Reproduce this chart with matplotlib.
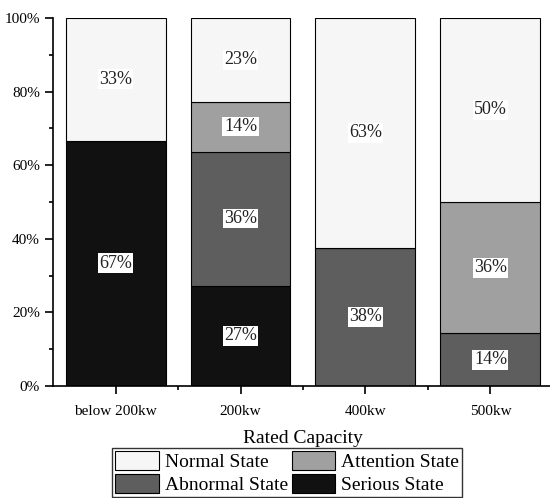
import matplotlib.pyplot as plt
from matplotlib.patches import Patch
from matplotlib.ticker import MultipleLocator, FixedLocator

plt.rcParams['font.family'] = ['Liberation Serif', 'DejaVu Serif']

categories = ['below 200kw', '200kw', '400kw', '500kw']
serious = [66.7, 27.3, 0, 0]
abnormal = [0, 36.4, 37.5, 14.3]
attention = [0, 13.6, 0, 35.7]
normal = [33.3, 22.7, 62.5, 50.0]

states = [('Serious State', serious, '#111111'),
          ('Abnormal State', abnormal, '#5e5e5e'),
          ('Attention State', attention, '#a0a0a0'),
          ('Normal State', normal, '#f6f6f6')]

fig = plt.figure(figsize=(5.5, 4.98), dpi=100)
ax = fig.add_axes([0.0964, 0.2249, 0.909, 0.739])

x = range(len(categories))
bottom = [0] * len(categories)
for name, vals, col in states:
    ax.bar(x, vals, 0.8, bottom=bottom, color=col, edgecolor='black', linewidth=0.8)
    for i, v in enumerate(vals):
        if v > 0:
            ax.text(i, bottom[i] + v / 2, '%d%%' % int(v + 0.5), ha='center', va='center',
                    fontsize=13, color='#222222',
                    bbox=dict(facecolor='white', edgecolor='none', pad=1))
    bottom = [b + v for b, v in zip(bottom, vals)]

ax.set_xlim(-0.5, 3.5)
ax.set_ylim(0, 100)
ax.set_xticks(list(x))
ax.set_xticklabels(categories, fontsize=11)
ax.xaxis.set_minor_locator(FixedLocator([0.5, 1.5, 2.5]))
ax.yaxis.set_major_locator(MultipleLocator(20))
ax.yaxis.set_minor_locator(MultipleLocator(10))
ax.yaxis.set_major_formatter(plt.FuncFormatter(lambda v, p: '%d%%' % v))
ax.tick_params(axis='y', labelsize=11)
ax.tick_params(axis='x', which='major', pad=8)
ax.tick_params(which='major', length=6, width=1.2)
ax.tick_params(which='minor', length=3, width=1.2)
for s in ['top', 'right']:
    ax.spines[s].set_visible(False)
for s in ['left', 'bottom']:
    ax.spines[s].set_linewidth(1.2)
ax.set_xlabel('Rated Capacity', fontsize=14, labelpad=8)

handles = [Patch(facecolor='#f6f6f6', edgecolor='black', linewidth=0.8, label='Normal State'),
           Patch(facecolor='#5e5e5e', edgecolor='black', linewidth=0.8, label='Abnormal State'),
           Patch(facecolor='#a0a0a0', edgecolor='black', linewidth=0.8, label='Attention State'),
           Patch(facecolor='#111111', edgecolor='black', linewidth=0.8, label='Serious State')]
leg = fig.legend(handles=handles, ncol=2, loc='upper center', bbox_to_anchor=(0.522, 0.1),
                 fontsize=14, frameon=True, fancybox=False, edgecolor='black',
                 handlelength=2.25, handleheight=1.1, handletextpad=0.3,
                 columnspacing=0.2, labelspacing=0.15, borderpad=0.15, borderaxespad=0)
leg.get_frame().set_linewidth(1.0)

fig.savefig('out.png', dpi=100)
